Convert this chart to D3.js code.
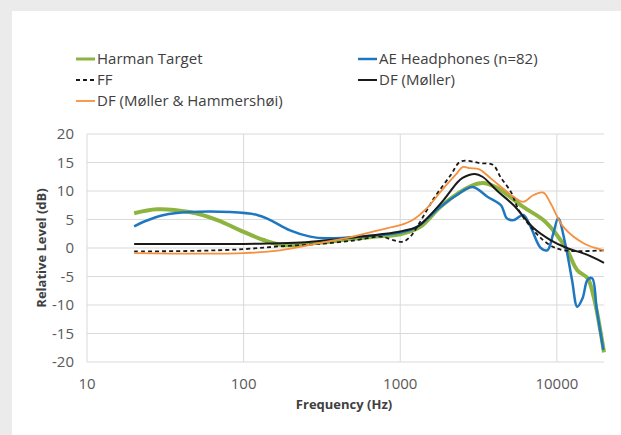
<!DOCTYPE html>
<html>
<head>
<meta charset="utf-8">
<script src="https://cdn.jsdelivr.net/npm/d3@7"></script>
<style>
  body { margin: 0; background: #ebebeb; }
  svg { display: block; }
</style>
</head>
<body>
<script>
// series data (frequency in Hz, level in dB)
var harmanF = [20, 28, 45, 68, 95, 134, 180, 300, 500, 700, 1000, 1340, 1800, 2400, 2900, 3400, 4200, 6100, 8200, 10000, 11600, 13500, 15700, 17200, 20000];
var harmanV = [6.1, 6.8, 6.3, 4.9, 3.1, 1.4, 0.5, 0.9, 1.6, 2.0, 2.4, 3.7, 7.2, 9.8, 11.0, 11.4, 10.5, 7.2, 4.9, 2.3, -0.3, -3.9, -5.3, -8.6, -18.3];

var aeF = [20, 23, 31, 45, 82, 122, 148, 198, 266, 340, 610, 1000, 1280, 1800, 2300, 2900, 3600, 4400, 4800, 5300, 6100, 6800, 7900, 8700, 9500, 10200, 11300, 12500, 13500, 14600, 15700, 16800, 18000, 19800];
var aeV = [3.8, 4.6, 5.8, 6.3, 6.3, 5.8, 4.9, 3.1, 2.0, 1.7, 2.1, 2.7, 3.7, 7.2, 9.3, 10.7, 9.0, 7.5, 5.2, 4.9, 5.8, 3.7, 0.0, -0.4, 2.6, 5.2, 0.8, -5.6, -10.3, -8.8, -5.6, -5.3, -10.9, -17.9];

var ffF = [20, 50, 100, 171, 300, 500, 750, 900, 1040, 1160, 1300, 1650, 2100, 2400, 2700, 3200, 3900, 4400, 5100, 5700, 6800, 8700, 11000, 20000];
var ffV = [-0.6, -0.5, -0.2, 0.3, 0.7, 1.3, 2.0, 1.4, 1.1, 2.0, 4.0, 8.8, 12.8, 15.1, 15.3, 14.9, 14.6, 12.3, 9.8, 6.7, 3.7, 0.8, -0.4, -0.4];

var dfmF = [20, 100, 150, 250, 415, 750, 1000, 1280, 1480, 1890, 2300, 2500, 3000, 3350, 4170, 5300, 7100, 9100, 11600, 15700, 20000];
var dfmV = [0.7, 0.7, 0.8, 1.0, 1.6, 2.4, 2.9, 3.7, 5.2, 8.4, 11.4, 12.3, 13.0, 12.5, 10.0, 7.5, 3.5, 1.4, 0.0, -1.2, -2.6];

var dfmhF = [20, 100, 171, 310, 500, 830, 1000, 1200, 1480, 1890, 2300, 2500, 2800, 3200, 3900, 5300, 6100, 7100, 8200, 9100, 11000, 14900, 20000];
var dfmhV = [-0.9, -0.9, -0.4, 0.9, 2.0, 3.5, 4.0, 4.9, 7.0, 10.5, 13.1, 14.2, 14.0, 13.8, 11.9, 9.0, 8.1, 9.3, 9.7, 7.9, 3.7, 0.8, -0.4];

var seriesNames = ["Harman Target", "AE Headphones (n=82)", "FF", "DF (M\u00f8ller)", "DF (M\u00f8ller & Hammersh\u00f8i)"];
var xTicks = [10, 100, 1000, 10000];
var yTicks = [-20, -15, -10, -5, 0, 5, 10, 15, 20];

var width = 621, height = 435;
var margin = { top: 134, right: 17, bottom: 73, left: 87 };

var svg = d3.select("body").append("svg")
  .attr("width", width)
  .attr("height", height);

// white card on grey page
svg.append("rect")
  .attr("x", 12).attr("y", 11)
  .attr("width", width - 12).attr("height", height - 11)
  .attr("fill", "#ffffff");

var x = d3.scaleLog().domain([10, 20000]).range([margin.left, width - margin.right]);
var y = d3.scaleLinear().domain([-20, 20]).range([height - margin.bottom, margin.top]);

var font = "'Open Sans', 'Noto Sans', sans-serif";

// gridlines
svg.append("g").selectAll("line.h")
  .data(yTicks)
  .enter().append("line")
  .attr("x1", x(10)).attr("x2", x(20000))
  .attr("y1", function (d) { return y(d); })
  .attr("y2", function (d) { return y(d); })
  .attr("stroke", "#d9d9d9")
  .attr("stroke-width", 1);

svg.append("g").selectAll("line.v")
  .data(xTicks)
  .enter().append("line")
  .attr("x1", function (d) { return x(d); })
  .attr("x2", function (d) { return x(d); })
  .attr("y1", y(20)).attr("y2", y(-20))
  .attr("stroke", "#d9d9d9")
  .attr("stroke-width", 1);

// tick labels
svg.append("g").selectAll("text")
  .data(yTicks)
  .enter().append("text")
  .attr("x", margin.left - 13)
  .attr("y", function (d) { return y(d); })
  .attr("dy", "0.35em")
  .attr("text-anchor", "end")
  .attr("font-family", font)
  .attr("font-size", 15)
  .attr("fill", "#595959")
  .text(function (d) { return String(d); });

svg.append("g").selectAll("text")
  .data(xTicks)
  .enter().append("text")
  .attr("x", function (d) { return x(d); })
  .attr("y", y(-20) + 22)
  .attr("dy", "0.35em")
  .attr("text-anchor", "middle")
  .attr("font-family", font)
  .attr("font-size", 15)
  .attr("fill", "#595959")
  .text(function (d) { return String(d); });

// axis titles
svg.append("text")
  .attr("transform", "translate(41," + y(0) + ") rotate(-90)")
  .attr("text-anchor", "middle")
  .attr("dy", "0.35em")
  .attr("font-family", font)
  .attr("font-size", 13)
  .attr("font-weight", "bold")
  .attr("fill", "#404040")
  .text("Relative Level (dB)");

svg.append("text")
  .attr("x", 344)
  .attr("y", 404)
  .attr("dy", "0.35em")
  .attr("text-anchor", "middle")
  .attr("font-family", font)
  .attr("font-size", 13)
  .attr("font-weight", "bold")
  .attr("fill", "#404040")
  .text("Frequency (Hz)");

// series
var styles = [
  { color: "#8cb43e", width: 4, dash: null },
  { color: "#1f77c0", width: 2.5, dash: null },
  { color: "#1a1a1a", width: 1.8, dash: "4,3" },
  { color: "#1a1a1a", width: 2, dash: null },
  { color: "#f5903e", width: 1.8, dash: null }
];
var seriesData = [
  d3.zip(harmanF, harmanV),
  d3.zip(aeF, aeV),
  d3.zip(ffF, ffV),
  d3.zip(dfmF, dfmV),
  d3.zip(dfmhF, dfmhV)
];

var line = d3.line()
  .x(function (d) { return x(d[0]); })
  .y(function (d) { return y(d[1]); })
  .curve(d3.curveCatmullRom.alpha(0.5));

seriesData.forEach(function (data, i) {
  svg.append("path")
    .datum(data)
    .attr("fill", "none")
    .attr("stroke", styles[i].color)
    .attr("stroke-width", styles[i].width)
    .attr("stroke-dasharray", styles[i].dash)
    .attr("stroke-linejoin", "round")
    .attr("d", line);
});

// legend
var legendPos = [[76, 59], [358, 59], [76, 80], [358, 80], [76, 101]];
seriesNames.forEach(function (name, i) {
  var g = svg.append("g").attr("transform", "translate(" + legendPos[i][0] + "," + legendPos[i][1] + ")");
  g.append("line")
    .attr("x1", 0).attr("x2", 19)
    .attr("y1", 0).attr("y2", 0)
    .attr("stroke", styles[i].color)
    .attr("stroke-width", Math.min(styles[i].width, 3))
    .attr("stroke-dasharray", styles[i].dash);
  g.append("text")
    .attr("x", 21)
    .attr("y", 0)
    .attr("dy", "0.35em")
    .attr("font-family", font)
    .attr("font-size", 15)
    .attr("fill", "#404040")
    .text(name);
});
</script>
</body>
</html>
